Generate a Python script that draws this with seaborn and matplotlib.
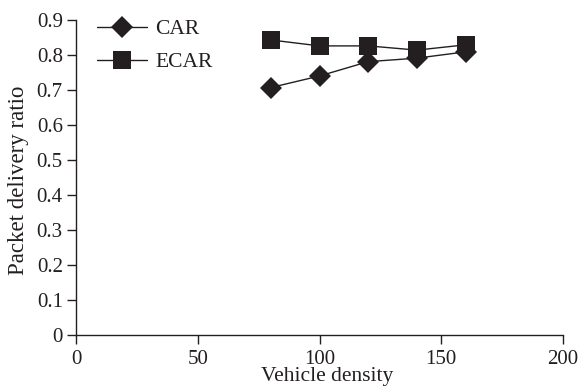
import matplotlib
matplotlib.use("Agg")
import matplotlib.pyplot as plt
import seaborn as sns
import pandas as pd

density = [80, 100, 120, 140, 160]
car = [0.707, 0.740, 0.781, 0.791, 0.809]
ecar = [0.843, 0.826, 0.826, 0.814, 0.829]
x_ticks = [0, 50, 100, 150, 200]
y_ticks = [0, 0.1, 0.2, 0.3, 0.4, 0.5, 0.6, 0.7, 0.8, 0.9]
y_tick_labels = ["0", "0.1", "0.2", "0.3", "0.4", "0.5", "0.6", "0.7", "0.8", "0.9"]

sns.set_theme(style="ticks")
plt.rcParams['font.family'] = ['Liberation Serif', 'DejaVu Serif']

ink = "#231f20"
df_car = pd.DataFrame({"x": density, "y": car, "s": "CAR"})
df_ecar = pd.DataFrame({"x": density, "y": ecar, "s": "ECAR"})

fig = plt.figure(figsize=(5.84, 3.88), dpi=100)
ax = fig.add_axes([76/584, 1-335/388, (563-76)/584, (335-20)/388])

sns.lineplot(data=df_car, x="x", y="y", ax=ax, color=ink, marker="D",
             markersize=10.7, markeredgewidth=0, linewidth=1.0, label="CAR")
sns.lineplot(data=df_ecar, x="x", y="y", ax=ax, color=ink, marker="s",
             markersize=13.2, markeredgewidth=0, linewidth=1.0, label="ECAR")

ax.set_xlim(0, 200)
ax.set_ylim(0, 0.9)
ax.set_xticks(x_ticks)
ax.set_xticklabels([str(t) for t in x_ticks])
ax.set_yticks(y_ticks)
ax.set_yticklabels(y_tick_labels)
for s in ["top", "right"]:
    ax.spines[s].set_visible(False)
for s in ["left", "bottom"]:
    ax.spines[s].set_color(ink)
    ax.spines[s].set_linewidth(1.0)
ax.tick_params(axis="both", direction="out", length=6.5, width=1.0, color=ink,
               labelsize=15, labelcolor=ink, pad=3)
ax.tick_params(axis="x", pad=4)

ax.set_xlabel("Vehicle density", fontsize=15.5, color=ink)
ax.set_ylabel("Packet delivery ratio", fontsize=16.5, color=ink)
ax.xaxis.set_label_coords((327-76)/487, -(377-335)/315)
ax.xaxis.label.set_va("center")
ax.yaxis.set_label_coords((19-76)/487, (335-180)/315)
ax.yaxis.label.set_va("center")

leg = ax.legend(loc="upper left", frameon=False,
                handlelength=2.3, handletextpad=0.4, labelspacing=0.6,
                borderaxespad=0, borderpad=0,
                bbox_to_anchor=((97-76)/487, (335-19)/315),
                prop={'family': 'Liberation Serif', 'size': 15.5})
for t in leg.get_texts():
    t.set_color(ink)

fig.savefig("out.png", dpi=100)
